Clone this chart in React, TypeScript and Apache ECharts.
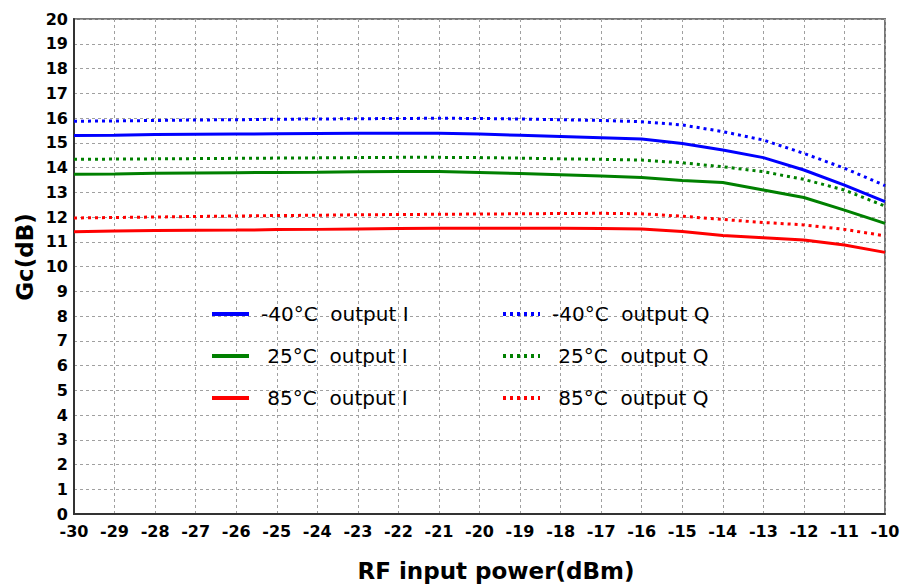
import React, { useEffect, useRef } from "react";
import * as echarts from "echarts";

const xValues = [-30, -29, -28, -27, -26, -25, -24, -23, -22, -21, -20, -19, -18, -17, -16, -15, -14, -13, -12, -11, -10];

const blueI = [15.29, 15.30, 15.33, 15.34, 15.35, 15.36, 15.37, 15.38, 15.38, 15.38, 15.35, 15.30, 15.25, 15.20, 15.15, 14.97, 14.71, 14.40, 13.90, 13.29, 12.62];
const blueQ = [15.87, 15.88, 15.90, 15.92, 15.93, 15.95, 15.96, 15.97, 15.98, 15.99, 15.98, 15.96, 15.93, 15.90, 15.85, 15.72, 15.45, 15.11, 14.57, 13.97, 13.27];
const greenI = [13.73, 13.74, 13.77, 13.78, 13.79, 13.80, 13.81, 13.83, 13.84, 13.84, 13.80, 13.76, 13.71, 13.66, 13.60, 13.47, 13.39, 13.09, 12.79, 12.28, 11.74];
const greenQ = [14.33, 14.34, 14.35, 14.36, 14.37, 14.38, 14.39, 14.40, 14.41, 14.41, 14.40, 14.38, 14.35, 14.33, 14.30, 14.19, 14.03, 13.83, 13.52, 13.09, 12.44];
const redI = [11.40, 11.43, 11.45, 11.46, 11.47, 11.49, 11.50, 11.52, 11.54, 11.55, 11.55, 11.55, 11.55, 11.54, 11.52, 11.41, 11.25, 11.16, 11.07, 10.87, 10.57];
const redQ = [11.96, 11.98, 12.00, 12.02, 12.04, 12.06, 12.07, 12.09, 12.10, 12.11, 12.12, 12.13, 12.14, 12.15, 12.13, 12.03, 11.90, 11.78, 11.68, 11.50, 11.24];

const namesI = ["-40°C  output I", " 25°C  output I", " 85°C  output I"];
const namesQ = ["-40°C  output Q", " 25°C  output Q", " 85°C  output Q"];
const xTitle = "RF input power(dBm)";
const yTitle = "Gc(dB)";

const BLUE = "#0000ff";
const GREEN = "#008000";
const RED = "#ff0000";

function pairs(ys: number[]) {
  return xValues.map((x, i) => [x, ys[i]]);
}

function mkSeries(name: string, ys: number[], color: string, dotted: boolean) {
  return {
    name,
    type: "line",
    data: pairs(ys),
    showSymbol: false,
    symbol: "none",
    lineStyle: { color, width: 3, type: dotted ? [3, 4] : "solid" },
    itemStyle: { color },
    z: dotted ? 3 : 4,
  };
}

export default function App() {
  const ref = useRef<HTMLDivElement>(null);
  useEffect(() => {
    if (!ref.current) return;
    const chart = echarts.init(ref.current, undefined, { renderer: "svg" });
    const legendText = {
      fontFamily: "DejaVu Sans",
      fontSize: 20,
      color: "#000",
      padding: [0, 0, 0, 7],
    };
    const legendCommon = {
      orient: "vertical",
      top: 304,
      padding: 0,
      itemWidth: 37,
      itemHeight: 20,
      itemGap: 22,
      textStyle: legendText,
      selectedMode: false,
      itemStyle: { color: "transparent", borderWidth: 0, opacity: 0 },
      lineStyle: { width: 4 },
    };
    const titleFont = { fontFamily: "DejaVu Sans", fontWeight: "bold", fontSize: 23, fill: "#000" };
    chart.setOption({
      animation: false,
      backgroundColor: "#fff",
      grid: {
        left: 74,
        right: 18,
        top: 19,
        bottom: 72,
        show: true,
        borderColor: "#777",
        borderWidth: 2,
      },
      legend: [
        { ...legendCommon, data: namesI, left: 210 },
        { ...legendCommon, data: namesQ, left: 501 },
      ],
      graphic: [
        {
          type: "text",
          x: 496,
          y: 571,
          style: { ...titleFont, text: xTitle, align: "center", verticalAlign: "middle" },
        },
        {
          type: "text",
          x: 25,
          y: 257,
          rotation: Math.PI / 2,
          style: { ...titleFont, text: yTitle, align: "center", verticalAlign: "middle" },
        },
      ],
      xAxis: {
        type: "value",
        min: -30,
        max: -10,
        interval: 1,
        axisLine: { show: true, lineStyle: { color: "#333", width: 2 } },
        axisTick: { show: false },
        axisLabel: { margin: 9, fontFamily: "DejaVu Sans", fontWeight: "bold", fontSize: 16, color: "#000" },
        splitLine: { show: true, lineStyle: { color: "#a0a0a0", type: [3, 3], width: 1 } },
      },
      yAxis: {
        type: "value",
        min: 0,
        max: 20,
        interval: 1,
        axisLine: { show: true, lineStyle: { color: "#333", width: 2 } },
        axisTick: { show: false },
        axisLabel: { margin: 6, fontFamily: "DejaVu Sans", fontWeight: "bold", fontSize: 16, color: "#000" },
        splitLine: { show: true, lineStyle: { color: "#a0a0a0", type: [3, 3], width: 1 } },
      },
      series: [
        mkSeries(namesI[0], blueI, BLUE, false),
        mkSeries(namesI[1], greenI, GREEN, false),
        mkSeries(namesI[2], redI, RED, false),
        mkSeries(namesQ[0], blueQ, BLUE, true),
        mkSeries(namesQ[1], greenQ, GREEN, true),
        mkSeries(namesQ[2], redQ, RED, true),
      ],
    });
    return () => chart.dispose();
  }, []);
  return (
    <div
      ref={ref}
      style={{ position: "fixed", left: 0, top: 0, width: 903, height: 586, background: "#fff" }}
    />
  );
}
